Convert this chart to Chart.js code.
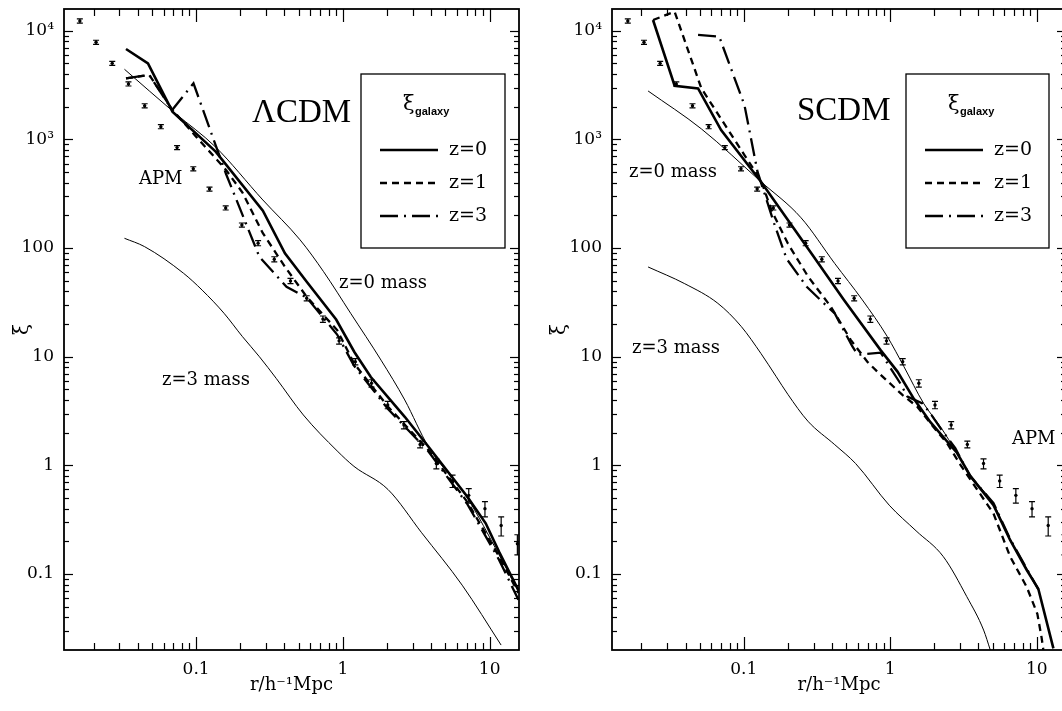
<!DOCTYPE html>
<html><head><meta charset="utf-8">
<script src="https://cdn.jsdelivr.net/npm/chart.js@4.4.1/dist/chart.umd.min.js"></script>
<style>
html,body{margin:0;padding:0;background:#fff;overflow:hidden;width:1062px;height:711px;position:relative;}
#cA{position:absolute;left:0;top:0;}
#cB{position:absolute;left:531px;top:0;}
</style></head><body>
<canvas id="cA" width="531" height="711"></canvas>
<canvas id="cB" width="545" height="711"></canvas>
<script>
// ---------- DATA ----------
const xTickValues = [0.1, 1, 10];
const xTickLabels = ['0.1', '1', '10'];
const yTickValues = [0.1, 1, 10, 100, 1000, 10000];
const yTickLabels = ['0.1', '1', '10', '100', '10³', '10⁴'];
const legendLabels = ['z=0', 'z=1', 'z=3'];

// APM galaxy correlation function (same in both panels)
const apmR = [0.01614, 0.02082, 0.02684, 0.03461, 0.04463, 0.05754, 0.07419, 0.09568, 0.1234, 0.1591,
  0.2051, 0.2645, 0.3410, 0.4397, 0.5670, 0.7311, 0.9428, 1.216, 1.567, 2.021,
  2.606, 3.360, 4.333, 5.587, 7.204, 9.290, 11.98, 15.45];
const apmXi = [12300, 7830, 5010, 3240, 2040, 1310, 840, 537, 349, 234,
  163, 111, 78.9, 49.8, 34.5, 22.2, 14.0, 9.0, 5.7, 3.6,
  2.35, 1.56, 1.04, 0.72, 0.53, 0.40, 0.28, 0.19];
const apmErr = [530, 340, 217, 140, 88, 57, 36, 23, 15, 10,
  7.1, 6.0, 4.3, 2.7, 1.9, 1.5, 0.92, 0.6, 0.44, 0.28,
  0.18, 0.11, 0.11, 0.094, 0.08, 0.064, 0.056, 0.04];

// Lambda-CDM panel
const lcdmMassZ0R = [0.0325, 0.072, 0.135, 0.285, 0.511, 0.739, 1.13, 1.82, 2.64, 3.82, 7.05, 11.6, 15.8];
const lcdmMassZ0Xi = [4420, 1740, 857, 277, 119, 60.6, 25.1, 9.3, 4.0, 1.49, 0.50, 0.15, 0.068];
const lcdmMassZ3R = [0.0325, 0.0446, 0.082, 0.110, 0.155, 0.207, 0.27, 0.352, 0.538, 0.914, 1.19, 2.03, 3.44, 6.5, 11.97];
const lcdmMassZ3Xi = [123, 103, 58.7, 41, 25.1, 15.3, 10, 6.3, 2.91, 1.36, 0.98, 0.6, 0.24, 0.079, 0.0222];
const lcdmGalZ0R = [0.0333, 0.047, 0.069, 0.136, 0.285, 0.403, 0.567, 0.9, 1.2, 1.55, 2.64, 3.82, 7.05, 9.4, 11.6, 15.7];
const lcdmGalZ0Xi = [6790, 5010, 1800, 771, 221, 89.5, 49, 22, 11, 6.5, 2.8, 1.49, 0.515, 0.293, 0.16, 0.071];
const lcdmGalZ1R = [0.0333, 0.048, 0.069, 0.1, 0.16, 0.207, 0.285, 0.403, 0.567, 0.914, 1.19, 2.03, 3.82, 7.05, 11.6, 15.7];
const lcdmGalZ1Xi = [3650, 3920, 1870, 1060, 523, 324, 137, 67.3, 35.6, 17.6, 8.7, 3.47, 1.39, 0.46, 0.145, 0.067];
const lcdmGalZ3R = [0.0333, 0.048, 0.0687, 0.096, 0.137, 0.16, 0.27, 0.413, 0.567, 0.914, 1.19, 2.03, 3.82, 7.05, 11.6, 15.7];
const lcdmGalZ3Xi = [3650, 3920, 1866, 3280, 857, 480, 83, 44, 35, 16, 8.3, 3.3, 1.35, 0.44, 0.135, 0.058];

// SCDM panel
const scdmMassZ0R = [0.0222, 0.0513, 0.131, 0.246, 0.418, 0.645, 0.955, 1.24, 1.69, 2.2, 2.86, 3.5, 5.07, 6.58, 8.55, 10.26];
const scdmMassZ0Xi = [2790, 1250, 408, 190, 72, 33.3, 15.3, 8.1, 3.72, 2.27, 1.29, 0.82, 0.44, 0.21, 0.112, 0.074];
const scdmMassZ3R = [0.0222, 0.0395, 0.0665, 0.096, 0.131, 0.166, 0.2, 0.274, 0.418, 0.58, 0.984, 1.5, 2.3, 3.33, 4.34, 4.82];
const scdmMassZ3Xi = [67, 47, 31, 19, 10.7, 6.6, 4.5, 2.55, 1.55, 1.04, 0.43, 0.25, 0.145, 0.062, 0.0305, 0.02];
const scdmGalZ0R = [0.024, 0.0337, 0.0487, 0.07, 0.131, 0.289, 0.483, 0.859, 1.12, 1.45, 1.88, 2.86, 3.52, 5.07, 6.58, 8.55, 10.26, 13.0];
const scdmGalZ0Xi = [12560, 3120, 2950, 1220, 408, 89.5, 33.3, 11.5, 7.3, 4.1, 2.5, 1.3, 0.8, 0.43, 0.206, 0.109, 0.073, 0.0207];
const scdmGalZ1R = [0.024, 0.0337, 0.0513, 0.101, 0.131, 0.155, 0.2, 0.274, 0.393, 0.537, 0.697, 0.815, 1.21, 1.53, 1.88, 2.44, 3.03, 5.07, 6.58, 8.55, 10.1, 10.8, 11.1];
const scdmGalZ1Xi = [12560, 14960, 2950, 718, 420, 220, 110, 55, 28.8, 14.3, 9.0, 7.3, 4.45, 3.47, 2.44, 1.6, 1.0, 0.36, 0.145, 0.076, 0.043, 0.026, 0.02];
const scdmGalZ3R = [0.0487, 0.068, 0.101, 0.124, 0.161, 0.196, 0.27, 0.357, 0.418, 0.55, 0.6, 0.86, 1.17, 1.31, 1.66, 1.88, 2.2, 2.78, 3.5, 5.07, 6.58, 8.55, 10.26];
const scdmGalZ3Xi = [9140, 8810, 2070, 505, 169, 79.6, 43.8, 30.5, 25, 12.5, 10.4, 10.9, 5.7, 4.3, 3.72, 3.0, 2.2, 1.44, 0.8, 0.45, 0.21, 0.112, 0.072];

// ---------- STYLES ----------
const FONT_SERIF = '"DejaVu Serif", serif';
const STYLE = {
  mass: { borderWidth: 1, borderDash: [] },
  z0: { borderWidth: 2.6, borderDash: [] },
  z1: { borderWidth: 2.3, borderDash: [7, 5] },
  z3: { borderWidth: 2.3, borderDash: [18, 6, 2, 6] }
};

function pts(r, xi) { return r.map((v, i) => ({ x: v, y: xi[i] })); }

function lineDs(r, xi, st, smooth) {
  return {
    data: pts(r, xi), borderColor: '#000', backgroundColor: '#000',
    borderWidth: st.borderWidth, borderDash: st.borderDash,
    pointRadius: 0, fill: false, tension: 0,
    cubicInterpolationMode: smooth ? 'monotone' : 'default',
    borderJoinStyle: 'miter', borderCapStyle: 'butt'
  };
}
function apmDs() {
  return {
    data: pts(apmR, apmXi), errorBars: apmErr, showLine: false,
    pointRadius: 1.7, pointBackgroundColor: '#000', pointBorderColor: '#000', pointBorderWidth: 0
  };
}

const framePlugin = {
  id: 'frameTicks',
  afterDatasetsDraw(chart) {
    const { ctx, chartArea: a, scales: { x, y } } = chart;
    ctx.save();
    ctx.strokeStyle = '#000';
    ctx.setLineDash([]);
    ctx.beginPath(); ctx.rect(a.left, a.top, a.right - a.left, a.bottom - a.top); ctx.clip();
    chart.data.datasets.forEach(ds => {
      if (!ds.errorBars) return;
      ctx.lineWidth = 1.2;
      ds.data.forEach((p, i) => {
        const e = ds.errorBars[i];
        const px = x.getPixelForValue(p.x);
        const y1 = y.getPixelForValue(p.y + e);
        const y2 = y.getPixelForValue(Math.max(p.y - e, 1e-6));
        ctx.beginPath();
        ctx.moveTo(px, y1); ctx.lineTo(px, y2);
        ctx.moveTo(px - 3, y1); ctx.lineTo(px + 3, y1);
        ctx.moveTo(px - 3, y2); ctx.lineTo(px + 3, y2);
        ctx.stroke();
      });
    });
    ctx.restore();
    ctx.save();
    ctx.strokeStyle = '#000';
    ctx.setLineDash([]);
    ctx.lineWidth = 1.2;
    const seg = (x1, y1, x2, y2) => { ctx.beginPath(); ctx.moveTo(x1, y1); ctx.lineTo(x2, y2); ctx.stroke(); };
    for (let e = -2; e <= 1; e++) for (let m = 1; m <= 9; m++) {
      const v = m * Math.pow(10, e);
      if (v < x.min * 1.001 || v > x.max * 0.999) continue;
      const px = Math.round(x.getPixelForValue(v)) + 0.5;
      const len = m === 1 ? 13 : 7;
      seg(px, a.bottom, px, a.bottom - len);
      seg(px, a.top, px, a.top + len);
    }
    for (let e = -2; e <= 4; e++) for (let m = 1; m <= 9; m++) {
      const v = m * Math.pow(10, e);
      if (v < y.min * 1.001 || v > y.max * 0.999) continue;
      const py = Math.round(y.getPixelForValue(v)) + 0.5;
      const len = m === 1 ? 9 : 5;
      seg(a.left, py, a.left + len, py);
      seg(a.right, py, a.right - len, py);
    }
    ctx.lineWidth = 1.8;
    ctx.strokeRect(a.left, a.top, a.right - a.left, a.bottom - a.top);
    ctx.restore();
  }
};

const annotPlugin = {
  id: 'annot',
  afterDraw(chart, args, opts) {
    const { ctx, chartArea: a } = chart;
    ctx.save();
    ctx.fillStyle = '#000';
    ctx.textBaseline = 'alphabetic';
    ctx.textAlign = 'left';
    (opts.texts || []).forEach(t => {
      ctx.font = t.font;
      ctx.fillText(t.text, a.left + t.dx, a.top + t.dy);
    });
    const L = opts.legend;
    const bx = a.left + L.dx, by = a.top + L.dy;
    ctx.strokeStyle = '#000';
    ctx.lineWidth = 1.3;
    ctx.setLineDash([]);
    ctx.strokeRect(bx, by, L.w, L.h);
    ctx.font = '21px ' + FONT_SERIF;
    ctx.fillText('ξ', bx + 42, by + 36);
    ctx.font = 'bold 11px "Liberation Sans", Arial, sans-serif';
    ctx.fillText('galaxy', bx + 54, by + 41);
    const styles = [STYLE.z0, STYLE.z1, STYLE.z3];
    const rows = [76, 109, 142];
    legendLabels.forEach((lab, i) => {
      const yy = by + rows[i];
      ctx.lineWidth = styles[i].borderWidth;
      ctx.setLineDash(styles[i].borderDash);
      ctx.lineCap = 'butt';
      ctx.beginPath(); ctx.moveTo(bx + 19, yy); ctx.lineTo(bx + 77, yy); ctx.stroke();
      ctx.setLineDash([]);
      ctx.font = '19px ' + FONT_SERIF;
      ctx.textBaseline = 'middle';
      ctx.fillText(lab, bx + 88, yy);
      ctx.textBaseline = 'alphabetic';
    });
    ctx.restore();
  }
};

function makeChart(canvasId, datasets, yAxisWidth, padRight, yTitlePad, annot) {
  return new Chart(document.getElementById(canvasId), {
    type: 'line',
    data: { datasets },
    plugins: [framePlugin, annotPlugin],
    options: {
      responsive: false, animation: false, devicePixelRatio: 1,
      layout: { padding: { top: 9, right: padRight, bottom: 0, left: 0 } },
      plugins: { legend: { display: false }, tooltip: { enabled: false }, annot: annot },
      scales: {
        x: {
          type: 'logarithmic', min: Math.pow(10, -1.9), max: Math.pow(10, 1.2),
          grid: { display: false, drawTicks: false },
          border: { display: false },
          afterBuildTicks: s => { s.ticks = xTickValues.map(v => ({ value: v })); },
          afterFit: s => { s.height = 61; s.paddingLeft = 0; s.paddingRight = 0; },
          ticks: {
            autoSkip: false, maxRotation: 0, minRotation: 0, padding: 9, color: '#000',
            font: { family: FONT_SERIF, size: 17 },
            callback: v => { const i = xTickValues.indexOf(v); return i >= 0 ? xTickLabels[i] : ''; }
          },
          title: { display: true, text: 'r/h⁻¹Mpc', color: '#000', font: { family: FONT_SERIF, size: 18 }, padding: { top: 0, bottom: 15 } }
        },
        y: {
          type: 'logarithmic', min: 0.02, max: Math.pow(10, 4.2),
          grid: { display: false, drawTicks: false },
          border: { display: false },
          afterBuildTicks: s => { s.ticks = yTickValues.map(v => ({ value: v })); },
          afterFit: s => { s.width = yAxisWidth; s.paddingTop = 0; s.paddingBottom = 0; },
          ticks: {
            autoSkip: false, padding: 10, color: '#000',
            font: { family: FONT_SERIF, size: 17 },
            callback: v => { const i = yTickValues.indexOf(v); return i >= 0 ? yTickLabels[i] : ''; }
          },
          title: { display: true, text: 'ξ', color: '#000', font: { family: FONT_SERIF, size: 20 }, padding: { top: yTitlePad, bottom: 0 } }
        }
      }
    }
  });
}

const lcdmSets = [
  lineDs(lcdmMassZ0R, lcdmMassZ0Xi, STYLE.mass, true),
  lineDs(lcdmMassZ3R, lcdmMassZ3Xi, STYLE.mass, true),
  lineDs(lcdmGalZ0R, lcdmGalZ0Xi, STYLE.z0, false),
  lineDs(lcdmGalZ1R, lcdmGalZ1Xi, STYLE.z1, false),
  lineDs(lcdmGalZ3R, lcdmGalZ3Xi, STYLE.z3, false),
  apmDs()
];
const scdmSets = [
  lineDs(scdmMassZ0R, scdmMassZ0Xi, STYLE.mass, true),
  lineDs(scdmMassZ3R, scdmMassZ3Xi, STYLE.mass, true),
  lineDs(scdmGalZ0R, scdmGalZ0Xi, STYLE.z0, false),
  lineDs(scdmGalZ1R, scdmGalZ1Xi, STYLE.z1, false),
  lineDs(scdmGalZ3R, scdmGalZ3Xi, STYLE.z3, false),
  apmDs()
];

const BIG = '33px "Liberation Serif", "Times New Roman", serif';
const MED = '18px ' + FONT_SERIF;

makeChart('cA', lcdmSets, 64, 12, 11, {
  texts: [
    { text: 'ΛCDM', dx: 188, dy: 113, font: BIG },
    { text: 'APM', dx: 75, dy: 175, font: MED },
    { text: 'z=0 mass', dx: 275, dy: 279, font: MED },
    { text: 'z=3 mass', dx: 98, dy: 376, font: MED }
  ],
  legend: { dx: 297, dy: 65, w: 144, h: 174 }
});
makeChart('cB', scdmSets, 81, 10, 17, {
  texts: [
    { text: 'SCDM', dx: 185, dy: 111, font: BIG },
    { text: 'z=0 mass', dx: 17, dy: 168, font: MED },
    { text: 'z=3 mass', dx: 20, dy: 344, font: MED },
    { text: 'APM', dx: 400, dy: 435, font: MED }
  ],
  legend: { dx: 294, dy: 65, w: 143, h: 174 }
});
</script>
</body></html>
